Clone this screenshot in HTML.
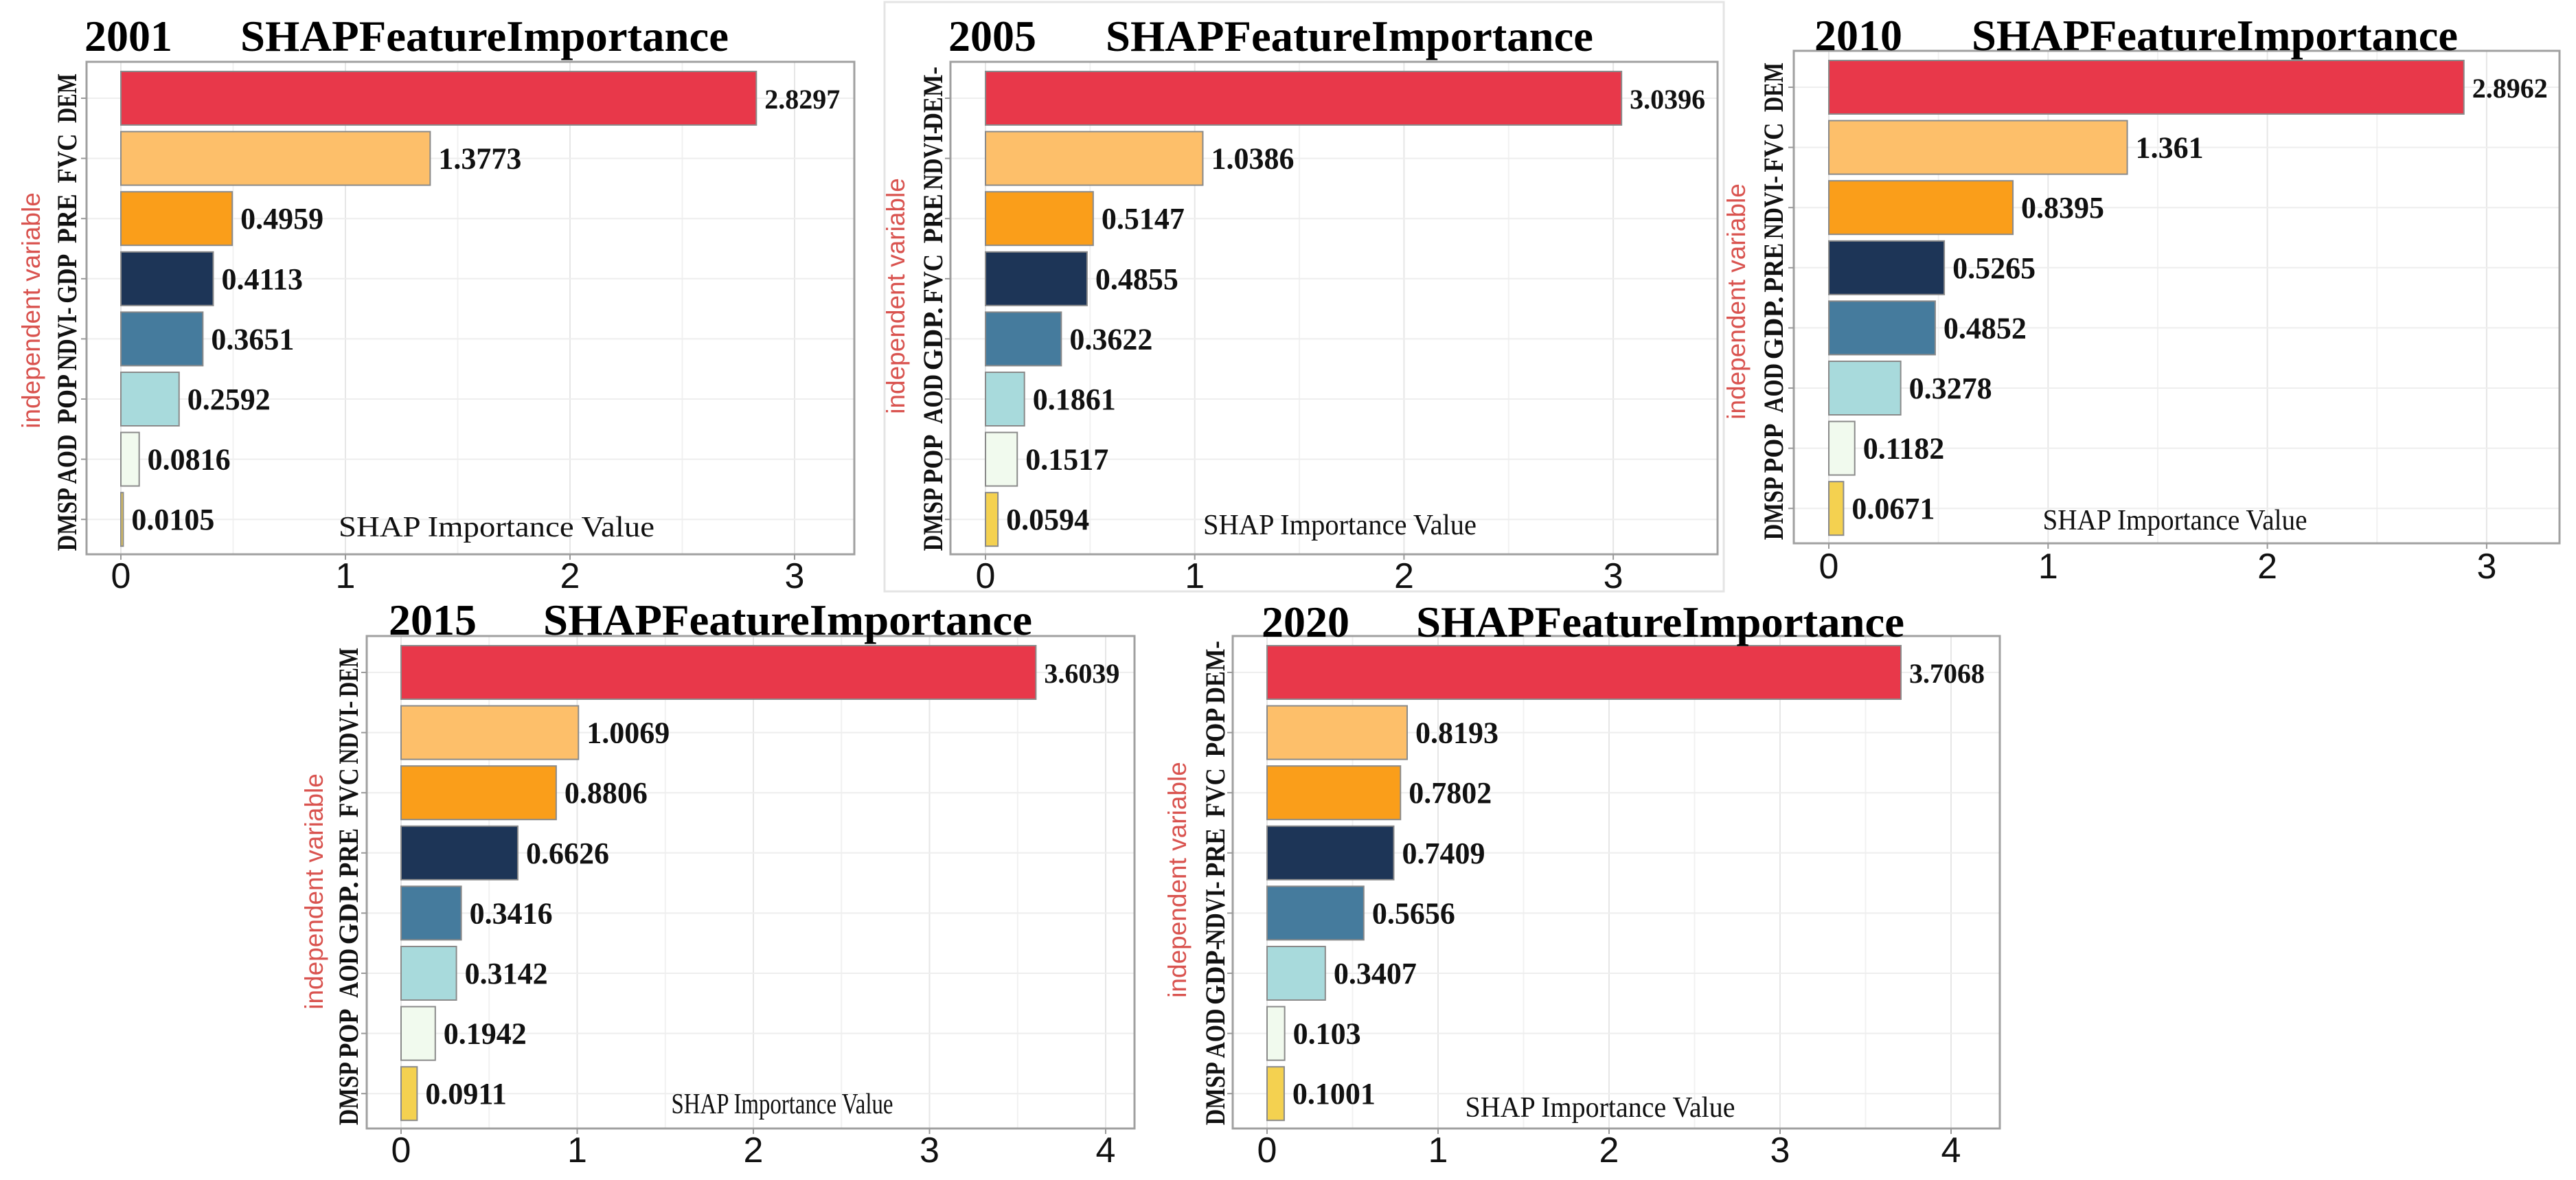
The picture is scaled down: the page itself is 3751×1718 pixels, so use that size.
<!DOCTYPE html>
<html><head><meta charset="utf-8">
<style>
html,body{margin:0;padding:0;background:#fff;}
svg{display:block;}
</style></head>
<body>
<svg id="chart" xmlns="http://www.w3.org/2000/svg" width="3751" height="1718" viewBox="0 0 3751 1718">
<rect x="0" y="0" width="3751" height="1718" fill="#fff"/>
<rect x="1288" y="3" width="1222" height="858" fill="none" stroke="#e4e4e4" stroke-width="3"/>
</svg>
<script>
const years = ["2001","2005","2010","2015","2020"];
const features2001 = ["DEM","FVC","PRE","GDP","NDVI-","POP","AOD","DMSP"];
const values2001 = [2.8297,1.3773,0.4959,0.4113,0.3651,0.2592,0.0816,0.0105];
const features2005 = ["DEM-","NDVI-","PRE","FVC","GDP.","AOD","POP","DMSP"];
const values2005 = [3.0396,1.0386,0.5147,0.4855,0.3622,0.1861,0.1517,0.0594];
const features2010 = ["DEM","FVC","NDVI-","PRE","GDP.","AOD","POP","DMSP"];
const values2010 = [2.8962,1.361,0.8395,0.5265,0.4852,0.3278,0.1182,0.0671];
const features2015 = ["DEM","NDVI-","FVC","PRE","GDP.","AOD","POP","DMSP"];
const values2015 = [3.6039,1.0069,0.8806,0.6626,0.3416,0.3142,0.1942,0.0911];
const features2020 = ["DEM-","POP","FVC","PRE","NDVI-","GDP-","AOD","DMSP"];
const values2020 = [3.7068,0.8193,0.7802,0.7409,0.5656,0.3407,0.103,0.1001];
const valueLabels2001 = ["2.8297","1.3773","0.4959","0.4113","0.3651","0.2592","0.0816","0.0105"];
const valueLabels2005 = ["3.0396","1.0386","0.5147","0.4855","0.3622","0.1861","0.1517","0.0594"];
const valueLabels2010 = ["2.8962","1.361","0.8395","0.5265","0.4852","0.3278","0.1182","0.0671"];
const valueLabels2015 = ["3.6039","1.0069","0.8806","0.6626","0.3416","0.3142","0.1942","0.0911"];
const valueLabels2020 = ["3.7068","0.8193","0.7802","0.7409","0.5656","0.3407","0.103","0.1001"];
const ticks3 = [0,1,2,3];
const ticks4 = [0,1,2,3,4];
const barColors = ["#e8384a","#fdbf6a","#fa9e1a","#1d3557","#457b9d","#a8dadc","#f1faee","#f4d150"];

const NS="http://www.w3.org/2000/svg";
const svg=document.getElementById('chart');
function mk(tag,attrs,parent){const e=document.createElementNS(NS,tag);for(const k in attrs)e.setAttribute(k,attrs[k]);(parent||svg).appendChild(e);return e;}

const layouts=[
 {feat:features2001,vals:values2001,labs:valueLabels2001,ticks:ticks3,box:[126,90,1244,807],x0:176,unit:327,t1:123,t2:350,t2e:1061,ty:50,ylx:98,ytx:46,yty:452,axy:767,axx:723,axw:460,tky:837},
 {feat:features2005,vals:values2005,labs:valueLabels2005,ticks:ticks3,box:[1384,90,2501,807],x0:1435,unit:304.7,t1:1381,t2:1610,t2e:2320,ty:50,ylx:1359,ytx:1305,yty:431,axy:764,axx:1951,axw:398,tky:837},
 {feat:features2010,vals:values2010,labs:valueLabels2010,ticks:ticks3,box:[2612,74,3727,791],x0:2663,unit:319.3,t1:2642,t2:2871,t2e:3579,ty:49,ylx:2583,ytx:2529,yty:439,axy:757,axx:3167,axw:385,tky:823},
 {feat:features2015,vals:values2015,labs:valueLabels2015,ticks:ticks4,box:[534,926,1652,1643],x0:584,unit:256.5,t1:566,t2:791,t2e:1503,ty:900,ylx:508,ytx:458,yty:1298,axy:1607,axx:1139,axw:323,tky:1673},
 {feat:features2020,vals:values2020,labs:valueLabels2020,ticks:ticks4,box:[1795,926,2912,1643],x0:1845,unit:249,t1:1837,t2:2062,t2e:2773,ty:903,ylx:1770,ytx:1715,yty:1281,axy:1612,axx:2330,axw:393,tky:1673}
];

layouts.forEach((L,pi)=>{
 const g=mk('g',{});
 
 
 const [bx,by,bx2,by2]=L.box;
 const xs=v=>L.x0+v*L.unit;
 const yc=i=>by+53+i*87.6;
 const maxT=L.ticks[L.ticks.length-1];
 for(let v=0;v<=maxT+0.01;v+=0.5){
  const gl=mk('line',{x1:xs(v),x2:xs(v),y1:by,y2:by2,stroke:v%1===0?'#e6e6e6':'#f1f1f1','stroke-width':2},g);
  
  
 }
 L.feat.forEach((f,i)=>{
  const hl=mk('line',{x1:bx,x2:bx2,y1:yc(i),y2:yc(i),stroke:'#eeeeee','stroke-width':2},g);
  
  
 });
 const box=mk('rect',{x:bx,y:by,width:bx2-bx,height:by2-by,fill:'none',stroke:'#a0a0a0','stroke-width':3},g);
 
 
 L.feat.forEach((f,i)=>{
  const b=mk('rect',{x:xs(0),y:yc(i)-39,width:Math.max(2,xs(L.vals[i])-xs(0)),height:78,fill:barColors[i],stroke:'#8a8a8a','stroke-width':2},g);
  
  
  const t=mk('text',{x:xs(L.vals[i])+12,y:yc(i)+15,'font-family':'"Liberation Serif",serif','font-weight':'bold','font-size':i===0?40:44,fill:'#111'},g);
  t.textContent=L.labs[i];
  
  
  const tk=mk('line',{x1:bx-8,x2:bx,y1:yc(i),y2:yc(i),stroke:'#999','stroke-width':2},g);
  
  
  const tl=Math.min(92,f.length*24);
  const yl=mk('text',{x:0,y:0,transform:`translate(${L.ylx+13},${yc(i)}) rotate(-90)`,'text-anchor':'middle',textLength:tl,lengthAdjust:'spacingAndGlyphs','font-family':'"Liberation Serif",serif','font-weight':'bold','font-size':40,fill:'#111'},g);
  yl.textContent=f;
  
  
 });
 L.ticks.forEach(v=>{
  const tk=mk('line',{x1:xs(v),x2:xs(v),y1:by2,y2:by2+8,stroke:'#999','stroke-width':2},g);
  
  
  const t=mk('text',{x:xs(v),y:L.tky+19,'text-anchor':'middle','font-family':'"Liberation Sans",sans-serif','font-size':52,fill:'#111'},g);
  t.textContent=String(v);
  
  
 });
 const ax=mk('text',{x:L.axx-L.axw/2,y:L.axy+14,textLength:L.axw,lengthAdjust:'spacingAndGlyphs','font-family':'"Liberation Serif",serif','font-size':42,fill:'#111'},g);
 ax.textContent='SHAP Importance Value';
 
 
 const yt=mk('text',{x:0,y:0,transform:`translate(${L.ytx+12},${L.yty}) rotate(-90)`,'text-anchor':'middle','font-family':'"Liberation Sans",sans-serif','font-size':37,fill:'#d9534f'},g);
 yt.textContent='independent variable';
 
 
 const ty=mk('text',{x:L.t1,y:L.ty+24,'font-family':'"Liberation Serif",serif','font-weight':'bold','font-size':64,fill:'#000'},g);
 ty.textContent=years[pi];
 
 
 const tt=mk('text',{x:L.t2,y:L.ty+24,textLength:L.t2e-L.t2,lengthAdjust:'spacingAndGlyphs','font-family':'"Liberation Serif",serif','font-weight':'bold','font-size':64,fill:'#000'},g);
 tt.textContent='SHAPFeatureImportance';
 
 
});
</script>
</body></html>
